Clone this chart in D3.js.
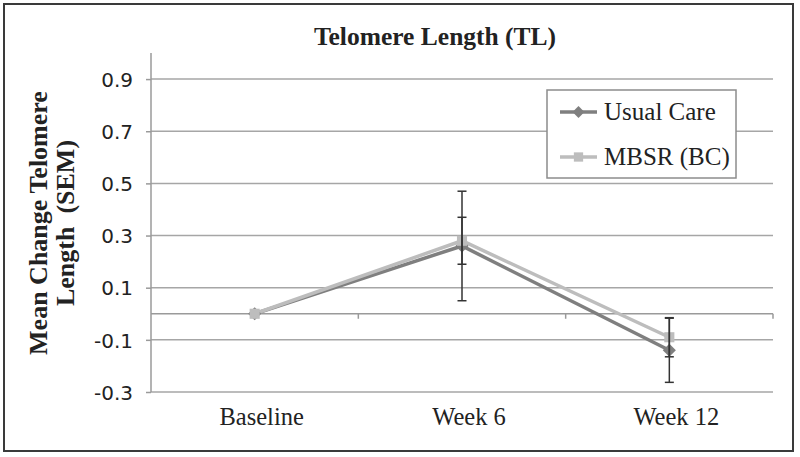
<!DOCTYPE html>
<html>
<head>
<meta charset="utf-8">
<script src="https://cdn.jsdelivr.net/npm/d3@7"></script>
<style>
  body { margin: 0; background: #fff; }
  svg { display: block; }
</style>
</head>
<body>
<div id="chart"></div>
<script>
// data
const categories = ['Baseline', 'Week 6', 'Week 12']
const seriesNames = ['Usual Care', 'MBSR (BC)']
const usualCare = [0, 0.26, -0.14]
const usualCareSem = [0, 0.21, 0.123]
const mbsr = [0, 0.28, -0.09]
const mbsrSem = [0, 0.09, 0.075]
const yTicks = [-0.3, -0.1, 0.1, 0.3, 0.5, 0.7, 0.9]

const width = 800, height = 457
const margin = {top: 53, right: 27, bottom: 65, left: 151}
const innerWidth = width - margin.left - margin.right
const innerHeight = height - margin.top - margin.bottom

const serif = '"Liberation Serif", "Times New Roman", serif'
const sans = '"DejaVu Sans", sans-serif'

const series = [
  {name: seriesNames[0], values: usualCare, sem: usualCareSem, color: '#7f7f7f', shape: d3.symbolDiamond2},
  {name: seriesNames[1], values: mbsr, sem: mbsrSem, color: '#bdbdbd', shape: d3.symbolSquare2}
]

const svg = d3.select('#chart').append('svg')
  .attr('width', width)
  .attr('height', height)

// outer frame
svg.append('rect')
  .attr('x', 4).attr('y', 4)
  .attr('width', 789).attr('height', 447)
  .attr('fill', '#fff')
  .attr('stroke', '#3a3a3a')
  .attr('stroke-width', 2)

const g = svg.append('g').attr('transform', `translate(${margin.left},${margin.top})`)

const x = d3.scaleBand().domain(categories).range([0, innerWidth])
const y = d3.scaleLinear().domain([-0.3, 1.0]).range([innerHeight, 0])
const cx = c => x(c) + x.bandwidth() / 2

// gridlines
g.append('g')
  .selectAll('line')
  .data(yTicks)
  .join('line')
    .attr('x1', 0).attr('x2', innerWidth)
    .attr('y1', d => y(d)).attr('y2', d => y(d))
    .attr('stroke', '#a6a6a6')
    .attr('stroke-width', 1.5)

// y axis, plain hyphen for negatives like the original
const yAxis = g.append('g')
  .call(d3.axisLeft(y).tickValues(yTicks).tickFormat(d => d.toFixed(1)).tickSize(5).tickPadding(13))
yAxis.select('.domain').attr('stroke', '#9a9a9a').attr('stroke-width', 1.5)
  .attr('d', `M0,0V${innerHeight}`)
yAxis.selectAll('.tick line').attr('stroke', '#9a9a9a').attr('stroke-width', 1.5)
yAxis.selectAll('text')
  .style('font-family', sans)
  .style('font-size', '20px')
  .attr('fill', '#222')
  .attr('dy', '0.36em')

// category axis crosses at zero
const xAxis = g.append('g')
  .attr('transform', `translate(0,${y(0)})`)
  .call(d3.axisBottom(x).tickSize(5).tickFormat(''))
xAxis.select('.domain').attr('stroke', '#9a9a9a').attr('stroke-width', 1.5)
  .attr('d', `M0,0H${innerWidth}`)
xAxis.selectAll('.tick').remove()
xAxis.selectAll('.btick')
  .data(categories)
  .join('line')
    .attr('class', 'btick')
    .attr('x1', d => x(d) + x.bandwidth()).attr('x2', d => x(d) + x.bandwidth())
    .attr('y1', 0).attr('y2', 5)
    .attr('stroke', '#9a9a9a')
    .attr('stroke-width', 1.5)

// category labels at the bottom (sit a little right of the band centre in the original)
g.append('g')
  .selectAll('text')
  .data(categories)
  .join('text')
    .attr('x', d => cx(d) + 7)
    .attr('y', innerHeight + 33)
    .attr('text-anchor', 'middle')
    .style('font-family', serif)
    .style('font-size', '24.5px')
    .attr('fill', '#222')
    .text(d => d)

// lines
const line = d3.line()
  .x((d, i) => cx(categories[i]))
  .y(d => y(d))

series.forEach(s => {
  g.append('path')
    .datum(s.values)
    .attr('d', line)
    .attr('fill', 'none')
    .attr('stroke', s.color)
    .attr('stroke-width', 3.5)
})

// markers
series.forEach(s => {
  g.append('g')
    .selectAll('path')
    .data(s.values)
    .join('path')
      .attr('transform', (d, i) => `translate(${cx(categories[i])},${y(d)})`)
      .attr('d', d3.symbol().type(s.shape).size(s.shape === d3.symbolSquare2 ? 130 : 110))
      .attr('fill', s.color)
})

// error bars (drawn over markers)
series.forEach(s => {
  const eb = g.append('g')
    .selectAll('g')
    .data(s.values.map((v, i) => ({v, e: s.sem[i], c: categories[i]})).filter(d => d.e > 0))
    .join('g')
      .attr('stroke', '#333')
      .attr('stroke-width', 1.5)
  eb.append('line')
    .attr('x1', d => cx(d.c)).attr('x2', d => cx(d.c))
    .attr('y1', d => y(d.v + d.e)).attr('y2', d => y(d.v - d.e))
  eb.append('line')
    .attr('x1', d => cx(d.c) - 4.5).attr('x2', d => cx(d.c) + 4.5)
    .attr('y1', d => y(d.v + d.e)).attr('y2', d => y(d.v + d.e))
  eb.append('line')
    .attr('x1', d => cx(d.c) - 4.5).attr('x2', d => cx(d.c) + 4.5)
    .attr('y1', d => y(d.v - d.e)).attr('y2', d => y(d.v - d.e))
})

// title
svg.append('text')
  .attr('x', 435)
  .attr('y', 45)
  .attr('text-anchor', 'middle')
  .style('font-family', serif)
  .style('font-size', '25.5px')
  .style('font-weight', 'bold')
  .attr('fill', '#222')
  .text('Telomere Length (TL)')

// y axis title, two lines
const yTitle = svg.append('text')
  .attr('transform', 'translate(0,223) rotate(-90)')
  .attr('text-anchor', 'middle')
  .style('font-family', serif)
  .style('font-size', '26px')
  .style('font-weight', 'bold')
  .attr('fill', '#222')
yTitle.append('tspan').attr('x', 0).attr('y', 47).text('Mean Change Telomere')
yTitle.append('tspan').attr('x', 0).attr('y', 74).attr('xml:space', 'preserve').text('Length  (SEM)')

// legend
const lg = svg.append('g').attr('transform', 'translate(547,90)')
lg.append('rect')
  .attr('width', 189).attr('height', 88)
  .attr('fill', '#fff')
  .attr('stroke', '#8c8c8c')
  .attr('stroke-width', 1.5)

const items = lg.selectAll('.item')
  .data(series)
  .join('g')
    .attr('class', 'item')
    .attr('transform', (d, i) => `translate(0,${22 + i * 45})`)
items.append('line')
  .attr('x1', 13).attr('x2', 50)
  .attr('stroke', d => d.color)
  .attr('stroke-width', 3.5)
items.append('path')
  .attr('transform', 'translate(31.5,0)')
  .attr('d', d => d3.symbol().type(d.shape).size(d.shape === d3.symbolSquare2 ? 110 : 90)())
  .attr('fill', d => d.color)
items.append('text')
  .attr('x', 57)
  .attr('y', 8)
  .style('font-family', serif)
  .style('font-size', '25px')
  .attr('fill', '#222')
  .text(d => d.name)
</script>
</body>
</html>
